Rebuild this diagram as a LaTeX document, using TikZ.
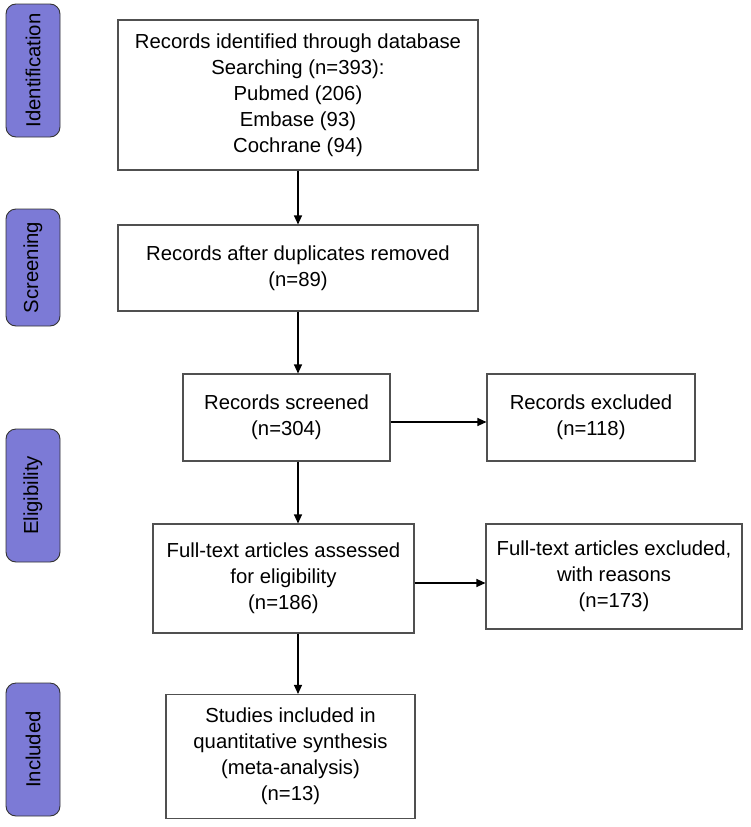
\documentclass[tikz,border=0pt]{standalone}
\usepackage{fontspec}
\setmainfont{Liberation Sans}
\usetikzlibrary{arrows.meta}
\definecolor{stagefill}{RGB}{124,122,214}
\definecolor{edgegray}{RGB}{80,80,80}
\begin{document}
\begin{tikzpicture}[x=1pt,y=-1pt,
  every node/.style={font=\fontsize{20.3pt}{26pt}\selectfont, text=black},
  flowbox/.style={draw=edgegray, line width=1.1pt, fill=white, align=center, inner sep=0pt},
  stage/.style={draw=black!80, line width=0.9pt, fill=stagefill, rounded corners=10pt, inner sep=0pt, rotate=90},
  arr/.style={draw=black, line width=1.1pt, -{Triangle[length=9pt,width=8pt]}}]
\useasboundingbox (0,0) rectangle (750,827);

% phase labels on the left
\node[stage, minimum width=133pt, minimum height=54pt] (s1) at (33,70.5) {Identification};
\node[stage, minimum width=117pt, minimum height=54pt] (s2) at (33,267.5) {Screening};
\node[stage, minimum width=133pt, minimum height=54pt] (s3) at (33,495.5) {Eligibility};
\node[stage, minimum width=133pt, minimum height=54pt] (s4) at (33,749.5) {Included};

% flow boxes
\node[flowbox, minimum width=360pt, minimum height=150pt] (b1) at (298,95)
  {Records identified through database\\Searching (n=393):\\Pubmed (206)\\Embase (93)\\Cochrane (94)};
\node[flowbox, minimum width=360pt, minimum height=86pt] (b2) at (298,268)
  {Records after duplicates removed\\(n=89)};
\node[flowbox, minimum width=207pt, minimum height=87pt] (b3) at (286.5,417.5)
  {Records screened\\(n=304)};
\node[flowbox, minimum width=208pt, minimum height=87pt] (b4) at (591,417.5)
  {Records excluded\\(n=118)};
\node[flowbox, minimum width=261pt, minimum height=109pt] (b5) at (283.5,578.5)
  {Full-text articles assessed\\for eligibility\\(n=186)};
\node[flowbox, minimum width=256pt, minimum height=105pt] (b6) at (614,576.5)
  {Full-text articles excluded,\\with reasons\\(n=173)};
\node[flowbox, minimum width=249pt, minimum height=124pt] (b7) at (290.5,756.5)
  {Studies included in\\quantitative synthesis\\(meta-analysis)\\(n=13)};

% connectors
\draw[arr] (b1.south) -- (b2.north);
\draw[arr] (b2.south) -- (b2.south |- b3.north);
\draw[arr] (b2.south |- b3.south) -- (b2.south |- b5.north);
\draw[arr] (b2.south |- b5.south) -- (b2.south |- b7.north);
\draw[arr] ([yshift=-4.5pt]b3.east) -- ([yshift=-4.5pt]b3.east -| b4.west);
\draw[arr] ([yshift=-4.5pt]b5.east) -- ([yshift=-4.5pt]b5.east -| b6.west);
\end{tikzpicture}
\end{document}
